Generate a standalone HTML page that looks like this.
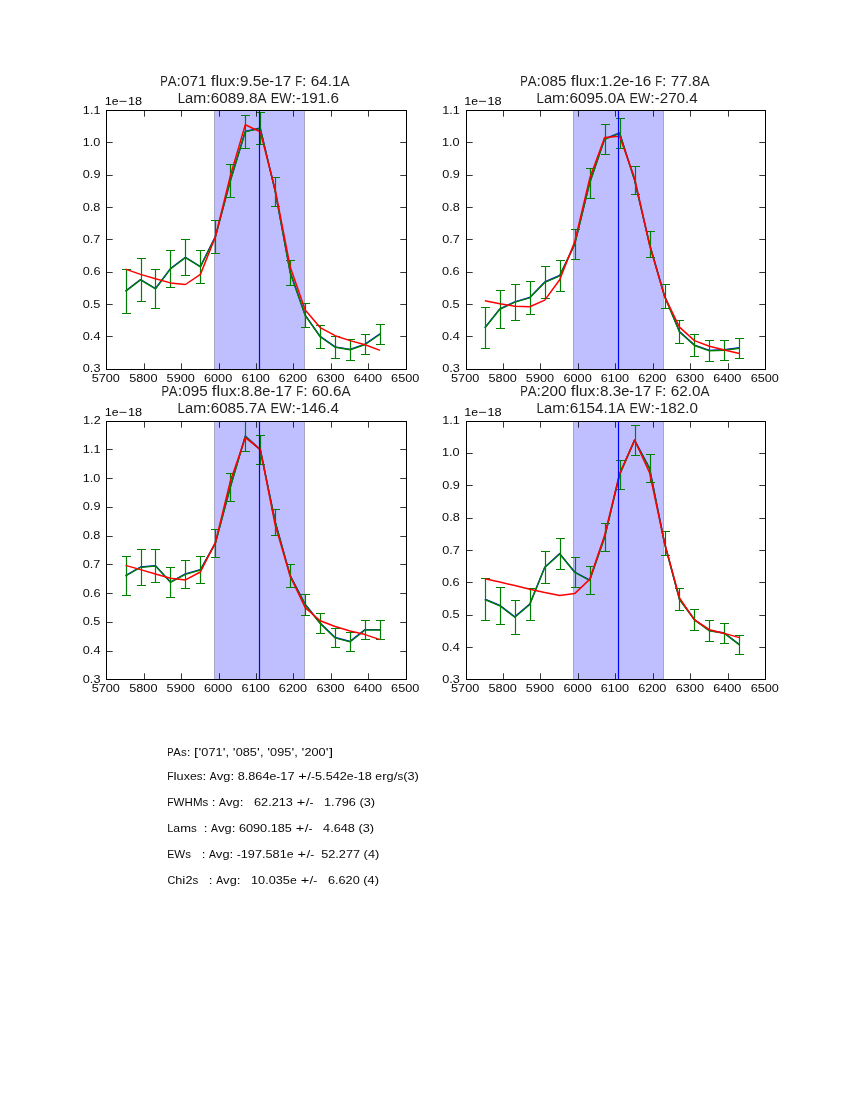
<!DOCTYPE html><html><head><meta charset="utf-8"><style>html,body{margin:0;padding:0;background:#fff;width:850px;height:1100px;overflow:hidden}svg{display:block}text{font-family:"Liberation Sans",sans-serif;fill:#000}</style></head><body>
<svg width="850" height="1100" viewBox="0 0 850 1100">
<rect width="850" height="1100" fill="#fff"/>
<defs><clipPath id="c0"><rect x="106" y="110" width="301" height="260"/></clipPath></defs>
<g clip-path="url(#c0)">
<rect x="214.5" y="110" width="90" height="260" fill="#bfbfff"/>
<path d="M214.5 110V370M304.5 110V370" stroke="#000" stroke-opacity="0.25" stroke-width="1" fill="none"/>
<polyline points="125.53,291.35 140.5,279.9 155.48,288.9 170.45,268.95 185.42,257.65 200.39,266.9 215.36,237 230.33,181 245.31,131.75 260.28,128.45 275.25,191.7 290.22,272.8 305.19,315.5 320.16,336.8 335.13,347.3 350.11,349.8 365.08,344.5 380.05,334.2" fill="none" stroke="#0000ff" stroke-width="1.39" stroke-linejoin="round" transform="translate(0,-0.4)"/>
<path d="M126.5 269.5V313.2M141.5 258.4V301.4M155.5 269.5V308.3M170.5 250.6V287.3M185.5 240V275.3M200.5 250.6V283.2M215.5 220.5V253.5M230.5 164.5V197.5M245.5 115.3V148.2M260.5 112.45V144.45M275.5 177.3V206.1M290.5 260.3V285.3M305.5 303.5V327.5M320.5 325.1V348.5M335.5 336.3V358.3M350.5 339.4V360.2M365.5 334.5V354.5M380.5 324.2V344.2" stroke="#008000" stroke-width="1.2" fill="none"/>
<path d="M122 269.5H131M122 313.5H131M137 258.5H146M137 301.5H146M151 269.5H160M151 308.5H160M166 250.5H175M166 287.5H175M181 239.5H190M181 275.5H190M196 250.5H205M196 283.5H205M211 220.5H220M211 253.5H220M226 164.5H235M226 197.5H235M241 115.5H250M241 148.5H250M256 112.5H265M256 144.5H265M271 177.5H280M271 206.5H280M286 260.5H295M286 285.5H295M301 303.5H310M301 327.5H310M316 325.5H325M316 348.5H325M331 336.5H340M331 358.5H340M346 339.5H355M346 360.5H355M361 334.5H370M361 354.5H370M376 324.5H385M376 344.5H385" stroke="#008000" stroke-width="1.1" fill="none"/>
<polyline points="125.53,291.35 140.5,279.9 155.48,288.9 170.45,268.95 185.42,257.65 200.39,266.9 215.36,237 230.33,181 245.31,131.75 260.28,128.45 275.25,191.7 290.22,272.8 305.19,315.5 320.16,336.8 335.13,347.3 350.11,349.8 365.08,344.5 380.05,334.2" fill="none" stroke="#008000" stroke-width="1.39" stroke-linejoin="round"/>
<polyline points="125.53,269.1 140.5,274.4 155.48,278.8 170.45,282.9 185.42,284.5 200.39,274.4 215.36,237 230.33,175.9 245.31,124.8 260.28,131.9 275.25,190 290.22,267 305.19,309.9 320.16,327.6 335.13,335.7 350.11,340.6 365.08,344.8 380.05,350.4" fill="none" stroke="#ff0000" stroke-width="1.5" stroke-linejoin="round"/>
<path d="M259.5 110V370" stroke="#0000ff" stroke-width="1.2"/>
</g>
<rect x="106.5" y="110.5" width="300" height="259" fill="none" stroke="#000" stroke-width="1"/>
<path d="M106.5 369.5v-6.2M106.5 110.5v6.2M144.5 369.5v-6.2M144.5 110.5v6.2M181.5 369.5v-6.2M181.5 110.5v6.2M219.5 369.5v-6.2M219.5 110.5v6.2M256.5 369.5v-6.2M256.5 110.5v6.2M293.5 369.5v-6.2M293.5 110.5v6.2M331.5 369.5v-6.2M331.5 110.5v6.2M368.5 369.5v-6.2M368.5 110.5v6.2M406.5 369.5v-6.2M406.5 110.5v6.2M106.5 110.5h6.2M406.5 110.5h-6.2M106.5 142.5h6.2M406.5 142.5h-6.2M106.5 175.5h6.2M406.5 175.5h-6.2M106.5 207.5h6.2M406.5 207.5h-6.2M106.5 239.5h6.2M406.5 239.5h-6.2M106.5 272.5h6.2M406.5 272.5h-6.2M106.5 304.5h6.2M406.5 304.5h-6.2M106.5 336.5h6.2M406.5 336.5h-6.2M106.5 369.5h6.2M406.5 369.5h-6.2" stroke="#000" stroke-opacity="0.78" stroke-width="1" fill="none"/>
<defs><clipPath id="c1"><rect x="466" y="110" width="300" height="260"/></clipPath></defs>
<g clip-path="url(#c1)">
<rect x="573.5" y="110" width="90" height="260" fill="#bfbfff"/>
<path d="M573.5 110V370M663.5 110V370" stroke="#000" stroke-opacity="0.25" stroke-width="1" fill="none"/>
<polyline points="484.85,328 499.82,309.3 514.8,302.2 529.77,297.8 544.74,282.4 559.71,275.9 574.68,244.5 589.65,183.2 604.63,139.3 619.6,133.3 634.57,180.4 649.54,244.5 664.51,296.2 679.48,332 694.45,345.5 709.43,350.8 724.4,350.2 739.37,348.2" fill="none" stroke="#0000ff" stroke-width="1.39" stroke-linejoin="round" transform="translate(0,-0.4)"/>
<path d="M485.5 307.5V348.5M500.5 290.3V328.3M515.5 284.2V320.2M530.5 281.2V314.4M545.5 266.4V298.4M560.5 260.3V291.5M575.5 229.4V259.6M590.5 168.2V198.2M605.5 124.3V154.3M620.5 118.2V148.4M635.5 166.3V194.5M650.5 231.6V257.4M665.5 284.2V308.2M679.5 320.5V343.5M694.5 334.5V356.5M709.5 340.1V361.5M724.5 340.2V360.2M739.5 338.2V358.2" stroke="#008000" stroke-width="1.2" fill="none"/>
<path d="M481 307.5H490M481 348.5H490M496 290.5H505M496 328.5H505M511 284.5H520M511 320.5H520M526 281.5H535M526 314.5H535M541 266.5H550M541 298.5H550M556 260.5H565M556 291.5H565M571 229.5H580M571 259.5H580M586 168.5H595M586 198.5H595M601 124.5H610M601 154.5H610M616 118.5H625M616 148.5H625M631 166.5H640M631 194.5H640M646 231.5H655M646 257.5H655M661 284.5H670M661 308.5H670M675 320.5H684M675 343.5H684M690 334.5H699M690 356.5H699M705 340.5H714M705 361.5H714M720 340.5H729M720 360.5H729M735 338.5H744M735 358.5H744" stroke="#008000" stroke-width="1.1" fill="none"/>
<polyline points="484.85,328 499.82,309.3 514.8,302.2 529.77,297.8 544.74,282.4 559.71,275.9 574.68,244.5 589.65,183.2 604.63,139.3 619.6,133.3 634.57,180.4 649.54,244.5 664.51,296.2 679.48,332 694.45,345.5 709.43,350.8 724.4,350.2 739.37,348.2" fill="none" stroke="#008000" stroke-width="1.39" stroke-linejoin="round"/>
<polyline points="484.85,300.8 499.82,303.8 514.8,306.2 529.77,306.7 544.74,300.1 559.71,279.7 574.68,241.9 589.65,178.6 604.63,137.6 619.6,136.3 634.57,178 649.54,244.9 664.51,296.4 679.48,327.1 694.45,340.6 709.43,346.2 724.4,349.9 739.37,353.6" fill="none" stroke="#ff0000" stroke-width="1.5" stroke-linejoin="round"/>
<path d="M618.5 110V370" stroke="#0000ff" stroke-width="1.2"/>
</g>
<rect x="466.5" y="110.5" width="299" height="259" fill="none" stroke="#000" stroke-width="1"/>
<path d="M466.5 369.5v-6.2M466.5 110.5v6.2M503.5 369.5v-6.2M503.5 110.5v6.2M540.5 369.5v-6.2M540.5 110.5v6.2M578.5 369.5v-6.2M578.5 110.5v6.2M615.5 369.5v-6.2M615.5 110.5v6.2M653.5 369.5v-6.2M653.5 110.5v6.2M690.5 369.5v-6.2M690.5 110.5v6.2M728.5 369.5v-6.2M728.5 110.5v6.2M765.5 369.5v-6.2M765.5 110.5v6.2M466.5 110.5h6.2M765.5 110.5h-6.2M466.5 142.5h6.2M765.5 142.5h-6.2M466.5 175.5h6.2M765.5 175.5h-6.2M466.5 207.5h6.2M765.5 207.5h-6.2M466.5 239.5h6.2M765.5 239.5h-6.2M466.5 272.5h6.2M765.5 272.5h-6.2M466.5 304.5h6.2M765.5 304.5h-6.2M466.5 336.5h6.2M765.5 336.5h-6.2M466.5 369.5h6.2M765.5 369.5h-6.2" stroke="#000" stroke-opacity="0.78" stroke-width="1" fill="none"/>
<defs><clipPath id="c2"><rect x="106" y="421" width="301" height="259"/></clipPath></defs>
<g clip-path="url(#c2)">
<rect x="214.5" y="421" width="90" height="259" fill="#bfbfff"/>
<path d="M214.5 421V680M304.5 421V680" stroke="#000" stroke-opacity="0.25" stroke-width="1" fill="none"/>
<polyline points="125.53,576 140.5,567.4 155.48,566 170.45,582.4 185.42,574.3 200.39,570 215.36,543.5 230.33,487.3 245.31,436.4 260.28,449.9 275.25,522.3 290.22,576 305.19,604.7 320.16,623.5 335.13,637.9 350.11,641.8 365.08,630 380.05,630" fill="none" stroke="#0000ff" stroke-width="1.39" stroke-linejoin="round" transform="translate(0,-0.4)"/>
<path d="M126.5 556.6V595.4M141.5 549.5V585.3M155.5 549.55V582.45M170.5 567.4V597.4M185.5 560.3V588.3M200.5 556.6V583.4M215.5 529.6V557.4M230.5 473.3V501.3M245.5 421.5V451.3M260.5 435.3V464.5M275.5 509.4V535.2M290.5 564.7V587.3M305.5 594.1V615.3M320.5 613.5V633.5M335.5 628.3V647.5M350.5 632.2V651.4M365.5 620.4V639.6M380.5 620.4V639.6" stroke="#008000" stroke-width="1.2" fill="none"/>
<path d="M122 556.5H131M122 595.5H131M137 549.5H146M137 585.5H146M151 549.5H160M151 582.5H160M166 567.5H175M166 597.5H175M181 560.5H190M181 588.5H190M196 556.5H205M196 583.5H205M211 529.5H220M211 557.5H220M226 473.5H235M226 501.5H235M241 421.5H250M241 451.5H250M256 435.5H265M256 464.5H265M271 509.5H280M271 535.5H280M286 564.5H295M286 587.5H295M301 594.5H310M301 615.5H310M316 613.5H325M316 633.5H325M331 628.5H340M331 647.5H340M346 632.5H355M346 651.5H355M361 620.5H370M361 639.5H370M376 620.5H385M376 639.5H385" stroke="#008000" stroke-width="1.1" fill="none"/>
<polyline points="125.53,576 140.5,567.4 155.48,566 170.45,582.4 185.42,574.3 200.39,570 215.36,543.5 230.33,487.3 245.31,436.4 260.28,449.9 275.25,522.3 290.22,576 305.19,604.7 320.16,623.5 335.13,637.9 350.11,641.8 365.08,630 380.05,630" fill="none" stroke="#008000" stroke-width="1.39" stroke-linejoin="round"/>
<polyline points="125.53,565.4 140.5,569.6 155.48,574 170.45,578.2 185.42,579.9 200.39,572 215.36,542.6 230.33,481.2 245.31,437.7 260.28,449.3 275.25,525.4 290.22,576.2 305.19,607.6 320.16,620.7 335.13,626.5 350.11,631 365.08,634.6 380.05,639.6" fill="none" stroke="#ff0000" stroke-width="1.5" stroke-linejoin="round"/>
<path d="M259.5 421V680" stroke="#0000ff" stroke-width="1.2"/>
</g>
<rect x="106.5" y="421.5" width="300" height="258" fill="none" stroke="#000" stroke-width="1"/>
<path d="M106.5 679.5v-6.2M106.5 421.5v6.2M144.5 679.5v-6.2M144.5 421.5v6.2M181.5 679.5v-6.2M181.5 421.5v6.2M219.5 679.5v-6.2M219.5 421.5v6.2M256.5 679.5v-6.2M256.5 421.5v6.2M293.5 679.5v-6.2M293.5 421.5v6.2M331.5 679.5v-6.2M331.5 421.5v6.2M368.5 679.5v-6.2M368.5 421.5v6.2M406.5 679.5v-6.2M406.5 421.5v6.2M106.5 421.5h6.2M406.5 421.5h-6.2M106.5 449.5h6.2M406.5 449.5h-6.2M106.5 478.5h6.2M406.5 478.5h-6.2M106.5 507.5h6.2M406.5 507.5h-6.2M106.5 536.5h6.2M406.5 536.5h-6.2M106.5 564.5h6.2M406.5 564.5h-6.2M106.5 593.5h6.2M406.5 593.5h-6.2M106.5 622.5h6.2M406.5 622.5h-6.2M106.5 651.5h6.2M406.5 651.5h-6.2M106.5 679.5h6.2M406.5 679.5h-6.2" stroke="#000" stroke-opacity="0.78" stroke-width="1" fill="none"/>
<defs><clipPath id="c3"><rect x="466" y="421" width="300" height="259"/></clipPath></defs>
<g clip-path="url(#c3)">
<rect x="573.5" y="421" width="90" height="259" fill="#bfbfff"/>
<path d="M573.5 421V680M663.5 421V680" stroke="#000" stroke-opacity="0.25" stroke-width="1" fill="none"/>
<polyline points="484.85,599.5 499.82,605.8 514.8,617.2 529.77,604.5 544.74,567.6 559.71,554 574.68,572.4 589.65,580.5 604.63,537.5 619.6,474.8 634.57,440.5 649.54,468.6 664.51,543.4 679.48,599.6 694.45,619.9 709.43,630.9 724.4,633.4 739.37,644.9" fill="none" stroke="#0000ff" stroke-width="1.39" stroke-linejoin="round" transform="translate(0,-0.4)"/>
<path d="M485.5 578.6V620.4M500.5 587.3V624.3M515.5 600.2V634.2M530.5 588.5V620.5M545.5 551.6V583.6M560.5 538.4V569.6M575.5 557.3V587.5M590.5 566.4V594.6M605.5 523.4V551.6M620.5 460.3V489.3M635.5 425.5V455.5M650.5 454.7V482.5M665.5 531.5V555.3M679.5 588.6V610.6M694.5 609.6V630.2M709.5 620.5V641.3M724.5 623.6V643.2M739.5 635.4V654.4" stroke="#008000" stroke-width="1.2" fill="none"/>
<path d="M481 578.5H490M481 620.5H490M496 587.5H505M496 624.5H505M511 600.5H520M511 634.5H520M526 588.5H535M526 620.5H535M541 551.5H550M541 583.5H550M556 538.5H565M556 569.5H565M571 557.5H580M571 587.5H580M586 566.5H595M586 594.5H595M601 523.5H610M601 551.5H610M616 460.5H625M616 489.5H625M631 425.5H640M631 455.5H640M646 454.5H655M646 482.5H655M661 531.5H670M661 555.5H670M675 588.5H684M675 610.5H684M690 609.5H699M690 630.5H699M705 620.5H714M705 641.5H714M720 623.5H729M720 643.5H729M735 635.5H744M735 654.5H744" stroke="#008000" stroke-width="1.1" fill="none"/>
<polyline points="484.85,599.5 499.82,605.8 514.8,617.2 529.77,604.5 544.74,567.6 559.71,554 574.68,572.4 589.65,580.5 604.63,537.5 619.6,474.8 634.57,440.5 649.54,468.6 664.51,543.4 679.48,599.6 694.45,619.9 709.43,630.9 724.4,633.4 739.37,644.9" fill="none" stroke="#008000" stroke-width="1.39" stroke-linejoin="round"/>
<polyline points="484.85,578.7 499.82,582.1 514.8,585.5 529.77,589.2 544.74,592.4 559.71,595.4 574.68,593.6 589.65,579.4 604.63,535.2 619.6,473.8 634.57,440 649.54,472.6 664.51,542.6 679.48,597.8 694.45,619.9 709.43,629.7 724.4,633.4 739.37,637.6" fill="none" stroke="#ff0000" stroke-width="1.5" stroke-linejoin="round"/>
<path d="M618.5 421V680" stroke="#0000ff" stroke-width="1.2"/>
</g>
<rect x="466.5" y="421.5" width="299" height="258" fill="none" stroke="#000" stroke-width="1"/>
<path d="M466.5 679.5v-6.2M466.5 421.5v6.2M503.5 679.5v-6.2M503.5 421.5v6.2M540.5 679.5v-6.2M540.5 421.5v6.2M578.5 679.5v-6.2M578.5 421.5v6.2M615.5 679.5v-6.2M615.5 421.5v6.2M653.5 679.5v-6.2M653.5 421.5v6.2M690.5 679.5v-6.2M690.5 421.5v6.2M728.5 679.5v-6.2M728.5 421.5v6.2M765.5 679.5v-6.2M765.5 421.5v6.2M466.5 421.5h6.2M765.5 421.5h-6.2M466.5 453.5h6.2M765.5 453.5h-6.2M466.5 485.5h6.2M765.5 485.5h-6.2M466.5 518.5h6.2M765.5 518.5h-6.2M466.5 550.5h6.2M765.5 550.5h-6.2M466.5 582.5h6.2M765.5 582.5h-6.2M466.5 615.5h6.2M765.5 615.5h-6.2M466.5 647.5h6.2M765.5 647.5h-6.2M466.5 679.5h6.2M765.5 679.5h-6.2" stroke="#000" stroke-opacity="0.78" stroke-width="1" fill="none"/>
<g style="will-change:transform">
<text transform="scale(1.08,1)" x="84.87 91.41 97.96 104.5" y="382" font-size="11.77" fill-opacity="0.965">5700</text>
<text transform="scale(1.08,1)" x="119.62 126.17 132.71 139.26" y="382" font-size="11.77" fill-opacity="0.965">5800</text>
<text transform="scale(1.08,1)" x="154.26 160.8 167.35 173.89" y="382" font-size="11.77" fill-opacity="0.965">5900</text>
<text transform="scale(1.08,1)" x="188.86 195.41 201.95 208.5" y="382" font-size="11.77" fill-opacity="0.965">6000</text>
<text transform="scale(1.08,1)" x="223.67 230.21 236.76 243.3" y="382" font-size="11.77" fill-opacity="0.965">6100</text>
<text transform="scale(1.08,1)" x="258.22 264.77 271.31 277.86" y="382" font-size="11.77" fill-opacity="0.965">6200</text>
<text transform="scale(1.08,1)" x="292.98 299.52 306.07 312.61" y="382" font-size="11.77" fill-opacity="0.965">6300</text>
<text transform="scale(1.08,1)" x="327.59 334.13 340.68 347.22" y="382" font-size="11.77" fill-opacity="0.965">6400</text>
<text transform="scale(1.08,1)" x="362.15 368.7 375.24 381.79" y="382" font-size="11.77" fill-opacity="0.965">6500</text>
<text transform="scale(1.08,1)" x="76.71 83.25 86.52" y="114" font-size="11.77" fill-opacity="0.965">1.1</text>
<text transform="scale(1.08,1)" x="76.61 83.15 86.42" y="146" font-size="11.77" fill-opacity="0.965">1.0</text>
<text transform="scale(1.08,1)" x="76.69 83.23 86.5" y="178" font-size="11.77" fill-opacity="0.965">0.9</text>
<text transform="scale(1.08,1)" x="76.62 83.17 86.44" y="211" font-size="11.77" fill-opacity="0.965">0.8</text>
<text transform="scale(1.08,1)" x="76.62 83.16 86.43" y="243" font-size="11.77" fill-opacity="0.965">0.7</text>
<text transform="scale(1.08,1)" x="76.64 83.19 86.46" y="275" font-size="11.77" fill-opacity="0.965">0.6</text>
<text transform="scale(1.08,1)" x="76.6 83.15 86.42" y="308" font-size="11.77" fill-opacity="0.965">0.5</text>
<text transform="scale(1.08,1)" x="76.64 83.19 86.46" y="340" font-size="11.77" fill-opacity="0.965">0.4</text>
<text transform="scale(1.08,1)" x="76.67 83.21 86.48" y="372" font-size="11.77" fill-opacity="0.965">0.3</text>
<text transform="scale(1.08,1)" x="97" y="105" font-size="11.77" fill-opacity="1.0">1</text>
<text transform="scale(1.04,1)" x="107.54" y="105" font-size="11.77" fill-opacity="1.0">e</text>
<text transform="scale(1.24,1)" x="96.01" y="105" font-size="11.77" fill-opacity="1.0">−</text>
<text transform="scale(1.08,1)" x="118.49 125.04" y="105" font-size="11.77" fill-opacity="1.0">18</text>
<text transform="scale(0.8,1)" x="200.39" y="86" font-size="14.12" fill-opacity="0.88">P</text>
<text transform="scale(0.94,1)" x="178.4" y="86" font-size="14.12" fill-opacity="0.88">A</text>
<text transform="scale(1.14,1)" x="154.89" y="86" font-size="14.12" fill-opacity="0.88">:</text>
<text transform="scale(1.08,1)" x="167.64 175.49 183.35" y="86" font-size="14.12" fill-opacity="0.88">071</text>
<text transform="scale(1.2,1)" x="175.61" y="86" font-size="14.12" fill-opacity="0.88">f</text>
<text transform="scale(1.18,1)" x="182.57" y="86" font-size="14.12" fill-opacity="0.88">l</text>
<text transform="scale(1.08,1)" x="202.88" y="86" font-size="14.12" fill-opacity="0.88">u</text>
<text transform="scale(1.12,1)" x="203.19" y="86" font-size="14.12" fill-opacity="0.88">x</text>
<text transform="scale(1.14,1)" x="206.56" y="86" font-size="14.12" fill-opacity="0.88">:</text>
<text transform="scale(1.08,1)" x="222.18 230.04 233.96" y="86" font-size="14.12" fill-opacity="0.88">9.5</text>
<text transform="scale(1.04,1)" x="251.13" y="86" font-size="14.12" fill-opacity="0.88">e</text>
<text transform="scale(1.02,1)" x="264.08" y="86" font-size="14.12" fill-opacity="0.88">-</text>
<text transform="scale(1.08,1)" x="253.86 261.71" y="86" font-size="14.12" fill-opacity="0.88">17</text>
<text transform="scale(0.8,1)" x="369.04" y="86" font-size="14.12" fill-opacity="0.88">F</text>
<text transform="scale(1.14,1)" x="264.92" y="86" font-size="14.12" fill-opacity="0.88">:</text>
<text transform="scale(1.08,1)" x="287.71 295.57 303.42 307.34" y="86" font-size="14.12" fill-opacity="0.88">64.1</text>
<text transform="scale(0.96,1)" x="354.63" y="86" font-size="14.12" fill-opacity="0.88">A</text>
<text transform="scale(0.94,1)" x="189.03" y="103" font-size="14.12" fill-opacity="0.88">L</text>
<text transform="scale(1.04,1)" x="177.98" y="103" font-size="14.12" fill-opacity="0.88">a</text>
<text transform="scale(1.1,1)" x="175.72" y="103" font-size="14.12" fill-opacity="0.88">m</text>
<text transform="scale(1.14,1)" x="180.93" y="103" font-size="14.12" fill-opacity="0.88">:</text>
<text transform="scale(1.08,1)" x="195.13 202.98 210.84 218.69 226.54 230.46" y="103" font-size="14.12" fill-opacity="0.88">6089.8</text>
<text transform="scale(0.96,1)" x="268.15" y="103" font-size="14.12" fill-opacity="0.88">A</text>
<text transform="scale(0.9,1)" x="300.79" y="103" font-size="14.12" fill-opacity="0.88">E</text>
<text transform="scale(0.92,1)" x="303.51" y="103" font-size="14.12" fill-opacity="0.88">W</text>
<text transform="scale(1.14,1)" x="255.76" y="103" font-size="14.12" fill-opacity="0.88">:</text>
<text transform="scale(1.02,1)" x="290.25" y="103" font-size="14.12" fill-opacity="0.88">-</text>
<text transform="scale(1.08,1)" x="278.57 286.43 294.28 302.13 306.05" y="103" font-size="14.12" fill-opacity="0.88">191.6</text>
<text transform="scale(1.08,1)" x="417.61 424.16 430.7 437.25" y="382" font-size="11.77" fill-opacity="0.965">5700</text>
<text transform="scale(1.08,1)" x="452.32 458.87 465.41 471.96" y="382" font-size="11.77" fill-opacity="0.965">5800</text>
<text transform="scale(1.08,1)" x="486.92 493.47 500.01 506.56" y="382" font-size="11.77" fill-opacity="0.965">5900</text>
<text transform="scale(1.08,1)" x="521.71 528.26 534.8 541.35" y="382" font-size="11.77" fill-opacity="0.965">6000</text>
<text transform="scale(1.08,1)" x="556.3 562.85 569.39 575.94" y="382" font-size="11.77" fill-opacity="0.965">6100</text>
<text transform="scale(1.08,1)" x="590.89 597.44 603.98 610.53" y="382" font-size="11.77" fill-opacity="0.965">6200</text>
<text transform="scale(1.08,1)" x="625.67 632.21 638.76 645.3" y="382" font-size="11.77" fill-opacity="0.965">6300</text>
<text transform="scale(1.08,1)" x="660.33 666.87 673.42 679.96" y="382" font-size="11.77" fill-opacity="0.965">6400</text>
<text transform="scale(1.08,1)" x="695.04 701.58 708.13 714.67" y="382" font-size="11.77" fill-opacity="0.965">6500</text>
<text transform="scale(1.08,1)" x="409.44 415.99 419.26" y="114" font-size="11.77" fill-opacity="0.965">1.1</text>
<text transform="scale(1.08,1)" x="409.24 415.79 419.06" y="146" font-size="11.77" fill-opacity="0.965">1.0</text>
<text transform="scale(1.08,1)" x="409.41 415.95 419.22" y="178" font-size="11.77" fill-opacity="0.965">0.9</text>
<text transform="scale(1.08,1)" x="409.33 415.88 419.15" y="211" font-size="11.77" fill-opacity="0.965">0.8</text>
<text transform="scale(1.08,1)" x="409.45 416 419.27" y="243" font-size="11.77" fill-opacity="0.965">0.7</text>
<text transform="scale(1.08,1)" x="409.27 415.82 419.09" y="275" font-size="11.77" fill-opacity="0.965">0.6</text>
<text transform="scale(1.08,1)" x="409.26 415.8 419.07" y="308" font-size="11.77" fill-opacity="0.965">0.5</text>
<text transform="scale(1.08,1)" x="409.3 415.85 419.12" y="340" font-size="11.77" fill-opacity="0.965">0.4</text>
<text transform="scale(1.08,1)" x="409.4 415.95 419.22" y="372" font-size="11.77" fill-opacity="0.965">0.3</text>
<text transform="scale(1.08,1)" x="429.78" y="105" font-size="11.77" fill-opacity="1.0">1</text>
<text transform="scale(1.04,1)" x="453.12" y="105" font-size="11.77" fill-opacity="1.0">e</text>
<text transform="scale(1.24,1)" x="385.86" y="105" font-size="11.77" fill-opacity="1.0">−</text>
<text transform="scale(1.08,1)" x="451.28 457.82" y="105" font-size="11.77" fill-opacity="1.0">18</text>
<text transform="scale(0.8,1)" x="650.41" y="86" font-size="14.12" fill-opacity="0.88">P</text>
<text transform="scale(0.94,1)" x="561.39" y="86" font-size="14.12" fill-opacity="0.88">A</text>
<text transform="scale(1.14,1)" x="470.69" y="86" font-size="14.12" fill-opacity="0.88">:</text>
<text transform="scale(1.08,1)" x="500.99 508.84 516.69" y="86" font-size="14.12" fill-opacity="0.88">085</text>
<text transform="scale(1.2,1)" x="475.62" y="86" font-size="14.12" fill-opacity="0.88">f</text>
<text transform="scale(1.18,1)" x="487.66" y="86" font-size="14.12" fill-opacity="0.88">l</text>
<text transform="scale(1.08,1)" x="536.23" y="86" font-size="14.12" fill-opacity="0.88">u</text>
<text transform="scale(1.12,1)" x="524.63" y="86" font-size="14.12" fill-opacity="0.88">x</text>
<text transform="scale(1.14,1)" x="522.36" y="86" font-size="14.12" fill-opacity="0.88">:</text>
<text transform="scale(1.08,1)" x="555.53 563.38 567.3" y="86" font-size="14.12" fill-opacity="0.88">1.2</text>
<text transform="scale(1.04,1)" x="597.3" y="86" font-size="14.12" fill-opacity="0.88">e</text>
<text transform="scale(1.02,1)" x="617.04" y="86" font-size="14.12" fill-opacity="0.88">-</text>
<text transform="scale(1.08,1)" x="587.2 595.06" y="86" font-size="14.12" fill-opacity="0.88">16</text>
<text transform="scale(0.8,1)" x="819.06" y="86" font-size="14.12" fill-opacity="0.88">F</text>
<text transform="scale(1.14,1)" x="580.72" y="86" font-size="14.12" fill-opacity="0.88">:</text>
<text transform="scale(1.08,1)" x="621.06 628.91 636.76 640.69" y="86" font-size="14.12" fill-opacity="0.88">77.8</text>
<text transform="scale(0.96,1)" x="729.65" y="86" font-size="14.12" fill-opacity="0.88">A</text>
<text transform="scale(0.94,1)" x="570.74" y="103" font-size="14.12" fill-opacity="0.88">L</text>
<text transform="scale(1.04,1)" x="522.98" y="103" font-size="14.12" fill-opacity="0.88">a</text>
<text transform="scale(1.1,1)" x="501.9" y="103" font-size="14.12" fill-opacity="0.88">m</text>
<text transform="scale(1.14,1)" x="495.67" y="103" font-size="14.12" fill-opacity="0.88">:</text>
<text transform="scale(1.08,1)" x="527.35 535.21 543.06 550.91 558.77 562.69" y="103" font-size="14.12" fill-opacity="0.88">6095.0</text>
<text transform="scale(0.96,1)" x="641.9" y="103" font-size="14.12" fill-opacity="0.88">A</text>
<text transform="scale(0.9,1)" x="699.46" y="103" font-size="14.12" fill-opacity="0.88">E</text>
<text transform="scale(0.92,1)" x="693.51" y="103" font-size="14.12" fill-opacity="0.88">W</text>
<text transform="scale(1.14,1)" x="570.5" y="103" font-size="14.12" fill-opacity="0.88">:</text>
<text transform="scale(1.02,1)" x="642.02" y="103" font-size="14.12" fill-opacity="0.88">-</text>
<text transform="scale(1.08,1)" x="610.8 618.65 626.5 634.36 638.28" y="103" font-size="14.12" fill-opacity="0.88">270.4</text>
<text transform="scale(1.08,1)" x="84.87 91.41 97.96 104.5" y="692" font-size="11.77" fill-opacity="0.965">5700</text>
<text transform="scale(1.08,1)" x="119.62 126.17 132.71 139.26" y="692" font-size="11.77" fill-opacity="0.965">5800</text>
<text transform="scale(1.08,1)" x="154.26 160.8 167.35 173.89" y="692" font-size="11.77" fill-opacity="0.965">5900</text>
<text transform="scale(1.08,1)" x="188.86 195.41 201.95 208.5" y="692" font-size="11.77" fill-opacity="0.965">6000</text>
<text transform="scale(1.08,1)" x="223.67 230.21 236.76 243.3" y="692" font-size="11.77" fill-opacity="0.965">6100</text>
<text transform="scale(1.08,1)" x="258.22 264.77 271.31 277.86" y="692" font-size="11.77" fill-opacity="0.965">6200</text>
<text transform="scale(1.08,1)" x="292.98 299.52 306.07 312.61" y="692" font-size="11.77" fill-opacity="0.965">6300</text>
<text transform="scale(1.08,1)" x="327.59 334.13 340.68 347.22" y="692" font-size="11.77" fill-opacity="0.965">6400</text>
<text transform="scale(1.08,1)" x="362.15 368.7 375.24 381.79" y="692" font-size="11.77" fill-opacity="0.965">6500</text>
<text transform="scale(1.08,1)" x="76.9 83.45 86.72" y="424" font-size="11.77" fill-opacity="0.965">1.2</text>
<text transform="scale(1.08,1)" x="76.71 83.25 86.52" y="453" font-size="11.77" fill-opacity="0.965">1.1</text>
<text transform="scale(1.08,1)" x="76.61 83.15 86.42" y="482" font-size="11.77" fill-opacity="0.965">1.0</text>
<text transform="scale(1.08,1)" x="76.69 83.23 86.5" y="510" font-size="11.77" fill-opacity="0.965">0.9</text>
<text transform="scale(1.08,1)" x="76.62 83.17 86.44" y="539" font-size="11.77" fill-opacity="0.965">0.8</text>
<text transform="scale(1.08,1)" x="76.62 83.16 86.43" y="568" font-size="11.77" fill-opacity="0.965">0.7</text>
<text transform="scale(1.08,1)" x="76.64 83.19 86.46" y="597" font-size="11.77" fill-opacity="0.965">0.6</text>
<text transform="scale(1.08,1)" x="76.6 83.15 86.42" y="625" font-size="11.77" fill-opacity="0.965">0.5</text>
<text transform="scale(1.08,1)" x="76.64 83.19 86.46" y="654" font-size="11.77" fill-opacity="0.965">0.4</text>
<text transform="scale(1.08,1)" x="76.67 83.21 86.48" y="683" font-size="11.77" fill-opacity="0.965">0.3</text>
<text transform="scale(1.08,1)" x="97" y="416" font-size="11.77" fill-opacity="1.0">1</text>
<text transform="scale(1.04,1)" x="107.54" y="416" font-size="11.77" fill-opacity="1.0">e</text>
<text transform="scale(1.24,1)" x="96.01" y="416" font-size="11.77" fill-opacity="1.0">−</text>
<text transform="scale(1.08,1)" x="118.49 125.04" y="416" font-size="11.77" fill-opacity="1.0">18</text>
<text transform="scale(0.8,1)" x="201.83" y="396" font-size="14.12" fill-opacity="0.88">P</text>
<text transform="scale(0.94,1)" x="179.62" y="396" font-size="14.12" fill-opacity="0.88">A</text>
<text transform="scale(1.14,1)" x="155.89" y="396" font-size="14.12" fill-opacity="0.88">:</text>
<text transform="scale(1.08,1)" x="168.7 176.56 184.41" y="396" font-size="14.12" fill-opacity="0.88">095</text>
<text transform="scale(1.2,1)" x="176.56" y="396" font-size="14.12" fill-opacity="0.88">f</text>
<text transform="scale(1.18,1)" x="183.54" y="396" font-size="14.12" fill-opacity="0.88">l</text>
<text transform="scale(1.08,1)" x="203.94" y="396" font-size="14.12" fill-opacity="0.88">u</text>
<text transform="scale(1.12,1)" x="204.21" y="396" font-size="14.12" fill-opacity="0.88">x</text>
<text transform="scale(1.14,1)" x="207.56" y="396" font-size="14.12" fill-opacity="0.88">:</text>
<text transform="scale(1.08,1)" x="223.24 231.1 235.02" y="396" font-size="14.12" fill-opacity="0.88">8.8</text>
<text transform="scale(1.04,1)" x="252.23" y="396" font-size="14.12" fill-opacity="0.88">e</text>
<text transform="scale(1.02,1)" x="265.21" y="396" font-size="14.12" fill-opacity="0.88">-</text>
<text transform="scale(1.08,1)" x="254.92 262.77" y="396" font-size="14.12" fill-opacity="0.88">17</text>
<text transform="scale(0.8,1)" x="370.48" y="396" font-size="14.12" fill-opacity="0.88">F</text>
<text transform="scale(1.14,1)" x="265.93" y="396" font-size="14.12" fill-opacity="0.88">:</text>
<text transform="scale(1.08,1)" x="288.77 296.63 304.48 308.4" y="396" font-size="14.12" fill-opacity="0.88">60.6</text>
<text transform="scale(0.96,1)" x="355.83" y="396" font-size="14.12" fill-opacity="0.88">A</text>
<text transform="scale(0.94,1)" x="188.94" y="413" font-size="14.12" fill-opacity="0.88">L</text>
<text transform="scale(1.04,1)" x="177.89" y="413" font-size="14.12" fill-opacity="0.88">a</text>
<text transform="scale(1.1,1)" x="175.63" y="413" font-size="14.12" fill-opacity="0.88">m</text>
<text transform="scale(1.14,1)" x="180.85" y="413" font-size="14.12" fill-opacity="0.88">:</text>
<text transform="scale(1.08,1)" x="195.04 202.9 210.75 218.6 226.46 230.38" y="413" font-size="14.12" fill-opacity="0.88">6085.7</text>
<text transform="scale(0.96,1)" x="268.05" y="413" font-size="14.12" fill-opacity="0.88">A</text>
<text transform="scale(0.9,1)" x="300.69" y="413" font-size="14.12" fill-opacity="0.88">E</text>
<text transform="scale(0.92,1)" x="303.41" y="413" font-size="14.12" fill-opacity="0.88">W</text>
<text transform="scale(1.14,1)" x="255.68" y="413" font-size="14.12" fill-opacity="0.88">:</text>
<text transform="scale(1.02,1)" x="290.16" y="413" font-size="14.12" fill-opacity="0.88">-</text>
<text transform="scale(1.08,1)" x="278.49 286.34 294.19 302.05 305.97" y="413" font-size="14.12" fill-opacity="0.88">146.4</text>
<text transform="scale(1.08,1)" x="417.61 424.16 430.7 437.25" y="692" font-size="11.77" fill-opacity="0.965">5700</text>
<text transform="scale(1.08,1)" x="452.32 458.87 465.41 471.96" y="692" font-size="11.77" fill-opacity="0.965">5800</text>
<text transform="scale(1.08,1)" x="486.92 493.47 500.01 506.56" y="692" font-size="11.77" fill-opacity="0.965">5900</text>
<text transform="scale(1.08,1)" x="521.71 528.26 534.8 541.35" y="692" font-size="11.77" fill-opacity="0.965">6000</text>
<text transform="scale(1.08,1)" x="556.3 562.85 569.39 575.94" y="692" font-size="11.77" fill-opacity="0.965">6100</text>
<text transform="scale(1.08,1)" x="590.89 597.44 603.98 610.53" y="692" font-size="11.77" fill-opacity="0.965">6200</text>
<text transform="scale(1.08,1)" x="625.67 632.21 638.76 645.3" y="692" font-size="11.77" fill-opacity="0.965">6300</text>
<text transform="scale(1.08,1)" x="660.33 666.87 673.42 679.96" y="692" font-size="11.77" fill-opacity="0.965">6400</text>
<text transform="scale(1.08,1)" x="695.04 701.58 708.13 714.67" y="692" font-size="11.77" fill-opacity="0.965">6500</text>
<text transform="scale(1.08,1)" x="409.44 415.99 419.26" y="424" font-size="11.77" fill-opacity="0.965">1.1</text>
<text transform="scale(1.08,1)" x="409.24 415.79 419.06" y="456" font-size="11.77" fill-opacity="0.965">1.0</text>
<text transform="scale(1.08,1)" x="409.41 415.95 419.22" y="489" font-size="11.77" fill-opacity="0.965">0.9</text>
<text transform="scale(1.08,1)" x="409.33 415.88 419.15" y="521" font-size="11.77" fill-opacity="0.965">0.8</text>
<text transform="scale(1.08,1)" x="409.45 416 419.27" y="554" font-size="11.77" fill-opacity="0.965">0.7</text>
<text transform="scale(1.08,1)" x="409.27 415.82 419.09" y="586" font-size="11.77" fill-opacity="0.965">0.6</text>
<text transform="scale(1.08,1)" x="409.26 415.8 419.07" y="618" font-size="11.77" fill-opacity="0.965">0.5</text>
<text transform="scale(1.08,1)" x="409.3 415.85 419.12" y="651" font-size="11.77" fill-opacity="0.965">0.4</text>
<text transform="scale(1.08,1)" x="409.4 415.95 419.22" y="683" font-size="11.77" fill-opacity="0.965">0.3</text>
<text transform="scale(1.08,1)" x="429.78" y="416" font-size="11.77" fill-opacity="1.0">1</text>
<text transform="scale(1.04,1)" x="453.12" y="416" font-size="11.77" fill-opacity="1.0">e</text>
<text transform="scale(1.24,1)" x="385.86" y="416" font-size="11.77" fill-opacity="1.0">−</text>
<text transform="scale(1.08,1)" x="451.28 457.82" y="416" font-size="11.77" fill-opacity="1.0">18</text>
<text transform="scale(0.8,1)" x="650.41" y="396" font-size="14.12" fill-opacity="0.88">P</text>
<text transform="scale(0.94,1)" x="561.39" y="396" font-size="14.12" fill-opacity="0.88">A</text>
<text transform="scale(1.14,1)" x="470.69" y="396" font-size="14.12" fill-opacity="0.88">:</text>
<text transform="scale(1.08,1)" x="500.99 508.84 516.69" y="396" font-size="14.12" fill-opacity="0.88">200</text>
<text transform="scale(1.2,1)" x="475.62" y="396" font-size="14.12" fill-opacity="0.88">f</text>
<text transform="scale(1.18,1)" x="487.66" y="396" font-size="14.12" fill-opacity="0.88">l</text>
<text transform="scale(1.08,1)" x="536.23" y="396" font-size="14.12" fill-opacity="0.88">u</text>
<text transform="scale(1.12,1)" x="524.63" y="396" font-size="14.12" fill-opacity="0.88">x</text>
<text transform="scale(1.14,1)" x="522.36" y="396" font-size="14.12" fill-opacity="0.88">:</text>
<text transform="scale(1.08,1)" x="555.53 563.38 567.3" y="396" font-size="14.12" fill-opacity="0.88">8.3</text>
<text transform="scale(1.04,1)" x="597.3" y="396" font-size="14.12" fill-opacity="0.88">e</text>
<text transform="scale(1.02,1)" x="617.04" y="396" font-size="14.12" fill-opacity="0.88">-</text>
<text transform="scale(1.08,1)" x="587.2 595.06" y="396" font-size="14.12" fill-opacity="0.88">17</text>
<text transform="scale(0.8,1)" x="819.06" y="396" font-size="14.12" fill-opacity="0.88">F</text>
<text transform="scale(1.14,1)" x="580.72" y="396" font-size="14.12" fill-opacity="0.88">:</text>
<text transform="scale(1.08,1)" x="621.06 628.91 636.76 640.69" y="396" font-size="14.12" fill-opacity="0.88">62.0</text>
<text transform="scale(0.96,1)" x="729.65" y="396" font-size="14.12" fill-opacity="0.88">A</text>
<text transform="scale(0.94,1)" x="570.87" y="413" font-size="14.12" fill-opacity="0.88">L</text>
<text transform="scale(1.04,1)" x="523.1" y="413" font-size="14.12" fill-opacity="0.88">a</text>
<text transform="scale(1.1,1)" x="502.01" y="413" font-size="14.12" fill-opacity="0.88">m</text>
<text transform="scale(1.14,1)" x="495.77" y="413" font-size="14.12" fill-opacity="0.88">:</text>
<text transform="scale(1.08,1)" x="527.47 535.32 543.17 551.02 558.88 562.8" y="413" font-size="14.12" fill-opacity="0.88">6154.1</text>
<text transform="scale(0.96,1)" x="642.02" y="413" font-size="14.12" fill-opacity="0.88">A</text>
<text transform="scale(0.9,1)" x="699.59" y="413" font-size="14.12" fill-opacity="0.88">E</text>
<text transform="scale(0.92,1)" x="693.64" y="413" font-size="14.12" fill-opacity="0.88">W</text>
<text transform="scale(1.14,1)" x="570.61" y="413" font-size="14.12" fill-opacity="0.88">:</text>
<text transform="scale(1.02,1)" x="642.14" y="413" font-size="14.12" fill-opacity="0.88">-</text>
<text transform="scale(1.08,1)" x="610.91 618.76 626.61 634.47 638.39" y="413" font-size="14.12" fill-opacity="0.88">182.0</text>
<text transform="scale(0.8,1)" x="208.97" y="756" font-size="11.77" fill-opacity="0.965">P</text>
<text transform="scale(0.96,1)" x="180.57" y="756" font-size="11.77" fill-opacity="0.965">A</text>
<text transform="scale(0.98,1)" x="184.62" y="756" font-size="11.77" fill-opacity="0.965">s</text>
<text transform="scale(1.14,1)" x="163.78" y="756" font-size="11.77" fill-opacity="0.965">:</text>
<text transform="scale(1.24,1)" x="156.54 160.04" y="756" font-size="11.77" fill-opacity="0.965">['</text>
<text transform="scale(1.08,1)" x="186.45 192.99 199.54" y="756" font-size="11.77" fill-opacity="0.965">071</text>
<text transform="scale(1.24,1)" x="179.6" y="756" font-size="11.77" fill-opacity="0.965">'</text>
<text transform="scale(1.08,1)" x="208.91" y="756" font-size="11.77" fill-opacity="0.965">,</text>
<text transform="scale(1.24,1)" x="187.76" y="756" font-size="11.77" fill-opacity="0.965">'</text>
<text transform="scale(1.08,1)" x="218.28 224.82 231.37" y="756" font-size="11.77" fill-opacity="0.965">085</text>
<text transform="scale(1.24,1)" x="207.32" y="756" font-size="11.77" fill-opacity="0.965">'</text>
<text transform="scale(1.08,1)" x="240.74" y="756" font-size="11.77" fill-opacity="0.965">,</text>
<text transform="scale(1.24,1)" x="215.48" y="756" font-size="11.77" fill-opacity="0.965">'</text>
<text transform="scale(1.08,1)" x="250.11 256.65 263.2" y="756" font-size="11.77" fill-opacity="0.965">095</text>
<text transform="scale(1.24,1)" x="235.05" y="756" font-size="11.77" fill-opacity="0.965">'</text>
<text transform="scale(1.08,1)" x="272.57" y="756" font-size="11.77" fill-opacity="0.965">,</text>
<text transform="scale(1.24,1)" x="243.21" y="756" font-size="11.77" fill-opacity="0.965">'</text>
<text transform="scale(1.08,1)" x="281.94 288.48 295.03" y="756" font-size="11.77" fill-opacity="0.965">200</text>
<text transform="scale(1.24,1)" x="262.77 265.24" y="756" font-size="11.77" fill-opacity="0.965">']</text>
<text transform="scale(0.88,1)" x="190" y="780" font-size="11.77" fill-opacity="0.965">F</text>
<text transform="scale(1.18,1)" x="147.09" y="780" font-size="11.77" fill-opacity="0.965">l</text>
<text transform="scale(1.08,1)" x="163.55" y="780" font-size="11.77" fill-opacity="0.965">u</text>
<text transform="scale(1.06,1)" x="173.29" y="780" font-size="11.77" fill-opacity="0.965">x</text>
<text transform="scale(1.04,1)" x="182.62" y="780" font-size="11.77" fill-opacity="0.965">e</text>
<text transform="scale(0.98,1)" x="200.78" y="780" font-size="11.77" fill-opacity="0.965">s</text>
<text transform="scale(1.14,1)" x="177.67" y="780" font-size="11.77" fill-opacity="0.965">:</text>
<text transform="scale(0.88,1)" x="238.45" y="780" font-size="11.77" fill-opacity="0.965">A</text>
<text transform="scale(1.12,1)" x="193.53" y="780" font-size="11.77" fill-opacity="0.965">v</text>
<text transform="scale(1.08,1)" x="206.79" y="780" font-size="11.77" fill-opacity="0.965">g</text>
<text transform="scale(1.14,1)" x="202.1" y="780" font-size="11.77" fill-opacity="0.965">:</text>
<text transform="scale(1.08,1)" x="220.06 226.6 229.87 236.42 242.96" y="780" font-size="11.77" fill-opacity="0.965">8.864</text>
<text transform="scale(1.04,1)" x="259.12" y="780" font-size="11.77" fill-opacity="0.965">e</text>
<text transform="scale(1.02,1)" x="270.89" y="780" font-size="11.77" fill-opacity="0.965">-</text>
<text transform="scale(1.08,1)" x="259.55 266.09" y="780" font-size="11.77" fill-opacity="0.965">17</text>
<text transform="scale(1.24,1)" x="240.62" y="780" font-size="11.77" fill-opacity="0.965">+</text>
<text transform="scale(1.14,1)" x="269.56" y="780" font-size="11.77" fill-opacity="0.965">/</text>
<text transform="scale(1.02,1)" x="304.94" y="780" font-size="11.77" fill-opacity="0.965">-</text>
<text transform="scale(1.08,1)" x="291.71 298.25 301.52 308.07 314.61" y="780" font-size="11.77" fill-opacity="0.965">5.542</text>
<text transform="scale(1.04,1)" x="333.52" y="780" font-size="11.77" fill-opacity="0.965">e</text>
<text transform="scale(1.02,1)" x="346.75" y="780" font-size="11.77" fill-opacity="0.965">-</text>
<text transform="scale(1.08,1)" x="331.2 337.74" y="780" font-size="11.77" fill-opacity="0.965">18</text>
<text transform="scale(1.04,1)" x="360.94" y="780" font-size="11.77" fill-opacity="0.965">e</text>
<text transform="scale(1.12,1)" x="341.24" y="780" font-size="11.77" fill-opacity="0.965">r</text>
<text transform="scale(1.08,1)" x="357.93" y="780" font-size="11.77" fill-opacity="0.965">g</text>
<text transform="scale(1.14,1)" x="345.29" y="780" font-size="11.77" fill-opacity="0.965">/</text>
<text transform="scale(0.98,1)" x="405.49" y="780" font-size="11.77" fill-opacity="0.965">s</text>
<text transform="scale(1.1,1)" x="366.51" y="780" font-size="11.77" fill-opacity="0.965">(</text>
<text transform="scale(1.08,1)" x="377.3" y="780" font-size="11.77" fill-opacity="0.965">3</text>
<text transform="scale(1.1,1)" x="376.88" y="780" font-size="11.77" fill-opacity="0.965">)</text>
<text transform="scale(0.88,1)" x="190" y="806" font-size="11.77" fill-opacity="0.965">F</text>
<text transform="scale(0.98,1)" x="177.15 188.32 196.82 206.63" y="806" font-size="11.77" fill-opacity="0.965">WHMs</text>
<text transform="scale(1.14,1)" x="185.8" y="806" font-size="11.77" fill-opacity="0.965">:</text>
<text transform="scale(0.88,1)" x="248.98" y="806" font-size="11.77" fill-opacity="0.965">A</text>
<text transform="scale(1.12,1)" x="201.8" y="806" font-size="11.77" fill-opacity="0.965">v</text>
<text transform="scale(1.08,1)" x="215.36" y="806" font-size="11.77" fill-opacity="0.965">g</text>
<text transform="scale(1.14,1)" x="210.23" y="806" font-size="11.77" fill-opacity="0.965">:</text>
<text transform="scale(1.08,1)" x="235.18 241.72 248.27 251.54 258.08 264.63" y="806" font-size="11.77" fill-opacity="0.965">62.213</text>
<text transform="scale(1.24,1)" x="239.35" y="806" font-size="11.77" fill-opacity="0.965">+</text>
<text transform="scale(1.14,1)" x="268.17" y="806" font-size="11.77" fill-opacity="0.965">/</text>
<text transform="scale(1.02,1)" x="303.39" y="806" font-size="11.77" fill-opacity="0.965">-</text>
<text transform="scale(1.08,1)" x="300.05 306.59 309.86 316.41 322.95" y="806" font-size="11.77" fill-opacity="0.965">1.796</text>
<text transform="scale(1.1,1)" x="326.73" y="806" font-size="11.77" fill-opacity="0.965">(</text>
<text transform="scale(1.08,1)" x="336.78" y="806" font-size="11.77" fill-opacity="0.965">3</text>
<text transform="scale(1.1,1)" x="337.1" y="806" font-size="11.77" fill-opacity="0.965">)</text>
<text transform="scale(0.94,1)" x="177.81" y="832" font-size="11.77" fill-opacity="0.965">L</text>
<text transform="scale(1.04,1)" x="166.65" y="832" font-size="11.77" fill-opacity="0.965">a</text>
<text transform="scale(1.1,1)" x="163.77" y="832" font-size="11.77" fill-opacity="0.965">m</text>
<text transform="scale(0.98,1)" x="194.85" y="832" font-size="11.77" fill-opacity="0.965">s</text>
<text transform="scale(1.14,1)" x="178.78" y="832" font-size="11.77" fill-opacity="0.965">:</text>
<text transform="scale(0.88,1)" x="239.88" y="832" font-size="11.77" fill-opacity="0.965">A</text>
<text transform="scale(1.12,1)" x="194.65" y="832" font-size="11.77" fill-opacity="0.965">v</text>
<text transform="scale(1.08,1)" x="207.95" y="832" font-size="11.77" fill-opacity="0.965">g</text>
<text transform="scale(1.14,1)" x="203.21" y="832" font-size="11.77" fill-opacity="0.965">:</text>
<text transform="scale(1.08,1)" x="221.22 227.77 234.31 240.86 247.4 250.67 257.22 263.76" y="832" font-size="11.77" fill-opacity="0.965">6090.185</text>
<text transform="scale(1.24,1)" x="238.59" y="832" font-size="11.77" fill-opacity="0.965">+</text>
<text transform="scale(1.14,1)" x="267.35" y="832" font-size="11.77" fill-opacity="0.965">/</text>
<text transform="scale(1.02,1)" x="302.47" y="832" font-size="11.77" fill-opacity="0.965">-</text>
<text transform="scale(1.08,1)" x="299.18 305.73 309 315.54 322.09" y="832" font-size="11.77" fill-opacity="0.965">4.648</text>
<text transform="scale(1.1,1)" x="325.88" y="832" font-size="11.77" fill-opacity="0.965">(</text>
<text transform="scale(1.08,1)" x="335.92" y="832" font-size="11.77" fill-opacity="0.965">3</text>
<text transform="scale(1.1,1)" x="336.25" y="832" font-size="11.77" fill-opacity="0.965">)</text>
<text transform="scale(0.9,1)" x="185.81" y="858" font-size="11.77" fill-opacity="0.965">E</text>
<text transform="scale(0.98,1)" x="177.87 189.05" y="858" font-size="11.77" fill-opacity="0.965">Ws</text>
<text transform="scale(1.14,1)" x="176.88" y="858" font-size="11.77" fill-opacity="0.965">:</text>
<text transform="scale(0.88,1)" x="237.42" y="858" font-size="11.77" fill-opacity="0.965">A</text>
<text transform="scale(1.12,1)" x="192.72" y="858" font-size="11.77" fill-opacity="0.965">v</text>
<text transform="scale(1.08,1)" x="205.95" y="858" font-size="11.77" fill-opacity="0.965">g</text>
<text transform="scale(1.14,1)" x="201.31" y="858" font-size="11.77" fill-opacity="0.965">:</text>
<text transform="scale(1.02,1)" x="232.12" y="858" font-size="11.77" fill-opacity="0.965">-</text>
<text transform="scale(1.08,1)" x="222.93 229.48 236.02 242.57 245.84 252.38 258.93" y="858" font-size="11.77" fill-opacity="0.965">197.581</text>
<text transform="scale(1.04,1)" x="275.7" y="858" font-size="11.77" fill-opacity="0.965">e</text>
<text transform="scale(1.24,1)" x="239.9" y="858" font-size="11.77" fill-opacity="0.965">+</text>
<text transform="scale(1.14,1)" x="268.77" y="858" font-size="11.77" fill-opacity="0.965">/</text>
<text transform="scale(1.02,1)" x="304.06" y="858" font-size="11.77" fill-opacity="0.965">-</text>
<text transform="scale(1.08,1)" x="297.41 303.95 310.5 313.77 320.31 326.86" y="858" font-size="11.77" fill-opacity="0.965">52.277</text>
<text transform="scale(1.1,1)" x="330.56" y="858" font-size="11.77" fill-opacity="0.965">(</text>
<text transform="scale(1.08,1)" x="340.69" y="858" font-size="11.77" fill-opacity="0.965">4</text>
<text transform="scale(1.1,1)" x="340.93" y="858" font-size="11.77" fill-opacity="0.965">)</text>
<text transform="scale(0.92,1)" x="182.06" y="884" font-size="11.77" fill-opacity="0.965">C</text>
<text transform="scale(1.08,1)" x="162.28" y="884" font-size="11.77" fill-opacity="0.965">h</text>
<text transform="scale(1.18,1)" x="154.51" y="884" font-size="11.77" fill-opacity="0.965">i</text>
<text transform="scale(1.08,1)" x="171.67" y="884" font-size="11.77" fill-opacity="0.965">2</text>
<text transform="scale(0.98,1)" x="196.42" y="884" font-size="11.77" fill-opacity="0.965">s</text>
<text transform="scale(1.14,1)" x="183.22" y="884" font-size="11.77" fill-opacity="0.965">:</text>
<text transform="scale(0.88,1)" x="245.63" y="884" font-size="11.77" fill-opacity="0.965">A</text>
<text transform="scale(1.12,1)" x="199.17" y="884" font-size="11.77" fill-opacity="0.965">v</text>
<text transform="scale(1.08,1)" x="212.64" y="884" font-size="11.77" fill-opacity="0.965">g</text>
<text transform="scale(1.14,1)" x="207.65" y="884" font-size="11.77" fill-opacity="0.965">:</text>
<text transform="scale(1.08,1)" x="232.45 239 245.54 248.81 255.36 261.9" y="884" font-size="11.77" fill-opacity="0.965">10.035</text>
<text transform="scale(1.04,1)" x="278.78" y="884" font-size="11.77" fill-opacity="0.965">e</text>
<text transform="scale(1.24,1)" x="242.49" y="884" font-size="11.77" fill-opacity="0.965">+</text>
<text transform="scale(1.14,1)" x="271.58" y="884" font-size="11.77" fill-opacity="0.965">/</text>
<text transform="scale(1.02,1)" x="307.2" y="884" font-size="11.77" fill-opacity="0.965">-</text>
<text transform="scale(1.08,1)" x="303.65 310.2 313.47 320.01 326.56" y="884" font-size="11.77" fill-opacity="0.965">6.620</text>
<text transform="scale(1.1,1)" x="330.27" y="884" font-size="11.77" fill-opacity="0.965">(</text>
<text transform="scale(1.08,1)" x="340.38" y="884" font-size="11.77" fill-opacity="0.965">4</text>
<text transform="scale(1.1,1)" x="340.63" y="884" font-size="11.77" fill-opacity="0.965">)</text>
</g>
</svg></body></html>
